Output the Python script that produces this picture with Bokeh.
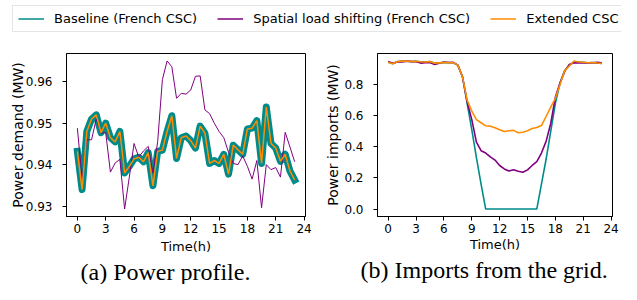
from bokeh.plotting import figure
from bokeh.models import Range1d, FixedTicker, PrintfTickFormatter, Legend, LegendItem, Title
from bokeh.layouts import column, row
from bokeh.embed import file_html
from bokeh.resources import INLINE

# ---------------- data ----------------
hours = [i * 0.5 for i in range(47)]  # 0 .. 23 h, half-hourly

# (a) power demand (MW)
baseline_demand = [
    0.9432, 0.9340, 0.9480, 0.9510, 0.9520, 0.9477, 0.9500, 0.9465, 0.9455, 0.9480,
    0.9380, 0.9396, 0.9414, 0.9418, 0.9407, 0.9429, 0.9349, 0.9432, 0.9435, 0.9480,
    0.9518, 0.9415, 0.9465, 0.9469, 0.9458, 0.9440, 0.9493, 0.9476, 0.9403, 0.9410,
    0.9403, 0.9425, 0.9377, 0.9447, 0.9436, 0.9425, 0.9486, 0.9488, 0.9506, 0.9403,
    0.9539, 0.9451, 0.9440, 0.9408, 0.9425, 0.9385, 0.9363,
]
spatial_demand = [
    0.9488, 0.9367, 0.9460, 0.9460, 0.9510, 0.9476, 0.9477, 0.9382, 0.9404, 0.9413,
    0.9293, 0.9370, 0.9451, 0.9418, 0.9433, 0.9444, 0.9380, 0.9455, 0.9605, 0.9650,
    0.9636, 0.9560, 0.9572, 0.9570, 0.9580, 0.9613, 0.9614, 0.9532, 0.9523, 0.9500,
    0.9480, 0.9465, 0.9430, 0.9403, 0.9400, 0.9421, 0.9396, 0.9365, 0.9410, 0.9296,
    0.9400, 0.9388, 0.9393, 0.9370, 0.9478, 0.9443, 0.9407,
]
extended_demand = list(baseline_demand)

# (b) power imports from the grid (MW)
baseline_imports = [
    0.9432, 0.9340, 0.9480, 0.9510, 0.9520, 0.9477, 0.9500, 0.9465, 0.9455, 0.9480,
    0.9380, 0.9396, 0.9414, 0.9418, 0.9407, 0.925, 0.85, 0.68, 0.51, 0.33,
    0.16, 0.0, 0.0, 0.0, 0.0, 0.0, 0.0, 0.0, 0.0, 0.0,
    0.0, 0.0, 0.0, 0.16, 0.32, 0.50, 0.68, 0.81, 0.89, 0.925,
    0.945, 0.9451, 0.9440, 0.9408, 0.9425, 0.9385, 0.9363,
]
spatial_imports = [
    0.9488, 0.9367, 0.9460, 0.9460, 0.9510, 0.9476, 0.9477, 0.9382, 0.9404, 0.9413,
    0.9293, 0.9370, 0.9451, 0.9418, 0.9433, 0.925, 0.85, 0.69, 0.575, 0.43,
    0.375, 0.36, 0.335, 0.315, 0.28, 0.258, 0.245, 0.253, 0.243, 0.236,
    0.252, 0.28, 0.305, 0.36, 0.435, 0.55, 0.72, 0.81, 0.885, 0.93,
    0.94, 0.94, 0.94, 0.939, 0.941, 0.943, 0.94,
]
extended_imports = [
    0.9432, 0.9340, 0.9480, 0.9510, 0.9520, 0.9477, 0.9500, 0.9465, 0.9455, 0.9480,
    0.9380, 0.9396, 0.9414, 0.9418, 0.9407, 0.925, 0.85, 0.70, 0.63, 0.575,
    0.555, 0.535, 0.533, 0.522, 0.51, 0.498, 0.503, 0.506, 0.49, 0.494,
    0.503, 0.518, 0.524, 0.537, 0.595, 0.655, 0.712, 0.80, 0.89, 0.92,
    0.952, 0.9451, 0.9440, 0.9408, 0.9425, 0.9385, 0.9363,
]

x_ticks = [0, 3, 6, 9, 12, 15, 18, 21, 24]
demand_ticks = [0.93, 0.94, 0.95, 0.96]
import_ticks = [0.0, 0.2, 0.4, 0.6, 0.8]
series_names = ["Baseline (French CSC)", "Spatial load shifting (French CSC)", "Extended CSC"]
x_label = "Time(h)"
y_labels = ["Power demand (MW)", "Power imports (MW)"]
captions = ["(a) Power profile.", "(b) Imports from the grid."]

TEAL = "darkcyan"
PURPLE = "purple"
ORANGE = "darkorange"
FONT = "DejaVu Sans"


def style(p, yticks, yfmt, ylabel, y_stand, x_stand):
    p.grid.visible = False
    p.outline_line_color = "black"
    p.outline_line_width = 1
    p.background_fill_color = "white"
    p.border_fill_color = "white"
    for ax in (p.xaxis[0], p.yaxis[0]):
        ax.major_tick_in = 0
        ax.major_tick_out = 4
        ax.minor_tick_line_color = None
        ax.axis_line_color = "black"
        ax.major_tick_line_color = "black"
        ax.major_label_text_font = FONT
        ax.major_label_text_font_size = "12px"
        ax.major_label_text_color = "black"
        ax.axis_label_text_font = FONT
        ax.axis_label_text_font_style = "normal"
        ax.axis_label_text_color = "black"
    p.xaxis.ticker = FixedTicker(ticks=x_ticks)
    p.xaxis.axis_label = x_label
    p.xaxis.axis_label_text_font_size = "13px"
    p.xaxis.major_label_standoff = 3
    p.xaxis.axis_label_standoff = x_stand
    p.yaxis.ticker = FixedTicker(ticks=yticks)
    p.yaxis.formatter = PrintfTickFormatter(format=yfmt)
    p.yaxis.axis_label = ylabel
    p.yaxis.axis_label_text_font_size = "14px"
    p.yaxis.major_label_standoff = 10
    p.yaxis.axis_label_standoff = y_stand


def caption(p, text, offset):
    p.add_layout(Title(text=text, align="left", offset=offset, standoff=0,
                       text_font="Liberation Serif", text_font_size="24px",
                       text_font_style="normal", text_color="black"), "below")


# ---------------- (a) ----------------
p1 = figure(width=322, height=250, title=None,
            x_range=Range1d(-1.15, 24.15), y_range=Range1d(0.9275, 0.9668),
            output_backend="svg", toolbar_location=None,
            min_border_left=66, min_border_right=17, min_border_top=19, min_border_bottom=64)
p1.line(hours, baseline_demand, line_color=TEAL, line_width=7, line_join="round", line_cap="square")
p1.line(hours, spatial_demand, line_color=PURPLE, line_width=1)
p1.line(hours, extended_demand, line_color=ORANGE, line_width=1.5)
style(p1, demand_ticks, "%.2f", y_labels[0], -3, 3)
caption(p1, captions[0], 14)

# ---------------- (b) ----------------
p2 = figure(width=299, height=250, title=None,
            x_range=Range1d(-1.15, 24.15), y_range=Range1d(-0.048, 1.0),
            output_backend="svg", toolbar_location=None,
            min_border_left=50, min_border_right=9, min_border_top=16, min_border_bottom=62)
p2.line(hours, baseline_imports, line_color=TEAL, line_width=1.6)
p2.line(hours, spatial_imports, line_color=PURPLE, line_width=1.6)
p2.line(hours, extended_imports, line_color=ORANGE, line_width=1.6)
style(p2, import_ticks, "%.1f", y_labels[1], 0, 1)
caption(p2, captions[1], -17)

# ---------------- legend strip ----------------
pl = figure(width=621, height=34, title=None, x_range=Range1d(0, 1), y_range=Range1d(0, 1),
            x_axis_type=None, y_axis_type=None, output_backend="svg", toolbar_location=None,
            min_border=0, outline_line_color=None)
pl.grid.visible = False
r_a = pl.line([5, 6], [5, 6], line_color=TEAL, line_width=1.5)
r_b = pl.line([5, 6], [5, 6], line_color=PURPLE, line_width=1.5)
r_c = pl.line([5, 6], [5, 6], line_color=ORANGE, line_width=1.5)
legend = Legend(items=[LegendItem(label=series_names[0], renderers=[r_a]),
                       LegendItem(label=series_names[1], renderers=[r_b]),
                       LegendItem(label=series_names[2], renderers=[r_c])],
                orientation="horizontal", location=(12, 2), margin=0, padding=5,
                spacing=20, glyph_width=26, glyph_height=15, label_height=15,
                label_standoff=10, label_text_font=FONT, label_text_font_size="13px",
                label_text_color="black", border_line_color="#cccccc", border_line_width=1,
                background_fill_color="white", background_fill_alpha=1)
pl.add_layout(legend, "center")

layout = column(pl, row(p1, p2))
open("out.html", "w").write(file_html(layout, INLINE))
